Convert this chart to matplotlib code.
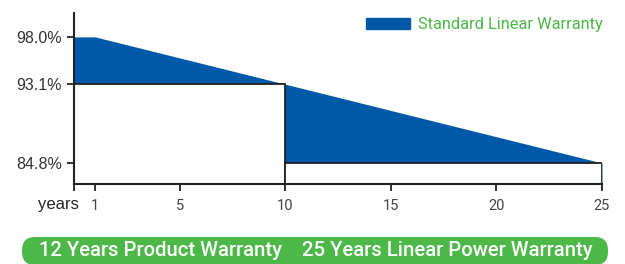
import matplotlib.pyplot as plt
from matplotlib.patches import Patch, FancyBboxPatch

# warranty curve
line_years = [0, 1, 25]
line_power = [98.0, 98.0, 84.8]

# product / step blocks
block_start = [0, 10]
block_width = [10, 15]
block_level = [93.1, 84.8]

xticks = [1, 5, 10, 15, 20, 25]
yticks = [84.8, 93.1, 98.0]

blue = "#0059a8"
green = "#4cb848"
ybot = 82.6

fig = plt.figure(figsize=(6.25, 2.64), dpi=100)
ax = fig.add_axes([74 / 625, 80 / 264, 528 / 625, 171 / 264])

ax.fill_between(line_years, line_power, ybot, color=blue, linewidth=0, zorder=1)
ax.bar(block_start, [v - ybot for v in block_level], width=block_width, bottom=ybot,
       align="edge", color="white", edgecolor="#222222", linewidth=1.3, zorder=2)

ax.set_xlim(0, 25)
ax.set_ylim(ybot, 100.5)
ax.set_xticks([0] + xticks)
ax.set_xticklabels([""] + [str(t) for t in xticks], fontsize=10.5, color="#444444",
                   family="Roboto")
ax.set_yticks(yticks)
ax.set_yticklabels(["%.1f%%" % v for v in yticks], fontsize=11.5, color="#333333",
                   family="Liberation Sans")
ax.tick_params(axis="both", length=5, width=1.3, color="#222222")
ax.tick_params(axis="x", pad=6)
for side in ["top", "right"]:
    ax.spines[side].set_visible(False)
for side in ["left", "bottom"]:
    ax.spines[side].set_linewidth(1.5)
    ax.spines[side].set_color("#222222")
    ax.spines[side].set_zorder(3)

fig.text(38 / 625, 1 - 205 / 264, "years", fontsize=12, color="#222222",
         family="Liberation Sans", va="center")

leg = ax.legend(handles=[Patch(color=blue, label="Standard Linear Warranty")],
                loc="upper right", bbox_to_anchor=(1.03, 1.06), frameon=False,
                handlelength=2.7, handleheight=0.65, handletextpad=0.5,
                prop={"family": "Roboto", "size": 11.8})
for t in leg.get_texts():
    t.set_color(green)

banner = FancyBboxPatch((22 / 625, 1 - 265 / 264), 586 / 625, 28 / 264,
                        boxstyle="round,pad=0,rounding_size=0.021",
                        mutation_aspect=625 / 264, transform=fig.transFigure,
                        facecolor=green, edgecolor="none")
fig.patches.append(banner)
fig.text(0.505, 1 - 251 / 264,
         "12 Years Product Warranty    25 Years Linear Power Warranty",
         fontsize=14.6, color="white", family="Roboto", weight="medium",
         ha="center", va="center")

fig.savefig("out.png", dpi=100)
